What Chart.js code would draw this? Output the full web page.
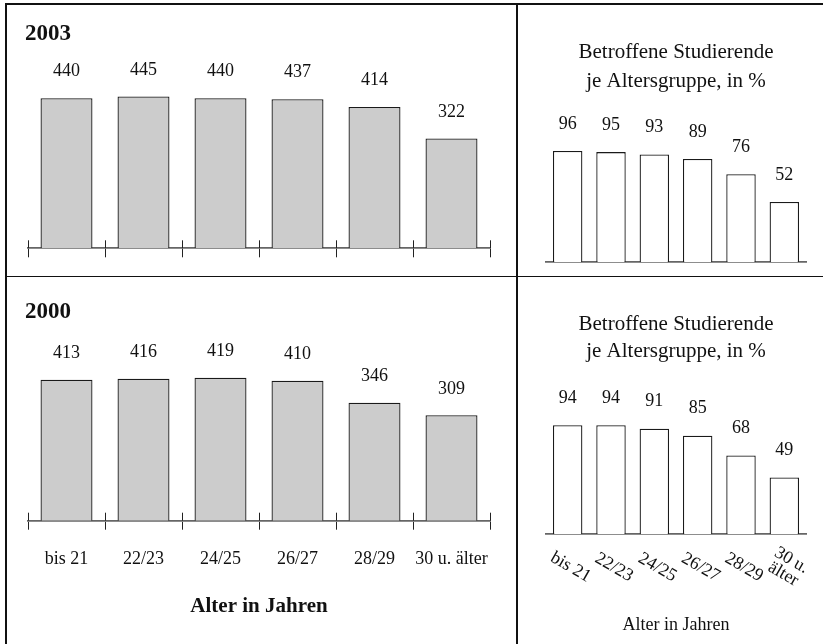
<!DOCTYPE html>
<html>
<head>
<meta charset="utf-8">
<script src="https://cdn.jsdelivr.net/npm/chart.js@4.4.0/dist/chart.umd.min.js"></script>
<style>
  html, body { margin: 0; padding: 0; background: #fff; }
  #page { position: relative; width: 823px; height: 644px; overflow: hidden; }
  canvas { position: absolute; }
  .rule { position: absolute; background: #111; }
</style>
</head>
<body>
<div id="page">
  <div class="rule" style="left:5px;top:3px;width:818px;height:1.5px"></div>
  <div class="rule" style="left:5px;top:3px;width:1.5px;height:641px"></div>
  <div class="rule" style="left:516px;top:3px;width:1.5px;height:641px"></div>
  <div class="rule" style="left:5px;top:275.5px;width:818px;height:1.5px"></div>
  <canvas id="count2003" width="510" height="272" style="left:6px;top:4px"></canvas>
  <canvas id="share2003" width="305" height="272" style="left:518px;top:4px"></canvas>
  <canvas id="count2000" width="510" height="367" style="left:6px;top:277px"></canvas>
  <canvas id="share2000" width="305" height="367" style="left:518px;top:277px"></canvas>
</div>
<script>
// Studierende nach Altersgruppe (Anzahl in Tsd.) und Anteil betroffener Studierender
const ageGroups = ['bis 21', '22/23', '24/25', '26/27', '28/29', '30 u. älter'];
const ageGroupsTilted = ['bis 21', '22/23', '24/25', '26/27', '28/29', ['30 u.', 'älter']];
const students2003 = [440, 445, 440, 437, 414, 322];
const share2003 = [96, 95, 93, 89, 76, 52];
const students2000 = [413, 416, 419, 410, 346, 309];
const share2000 = [94, 94, 91, 85, 68, 49];
const countMax = 500;
const shareMax = 100;
const shareTitle = ['Betroffene Studierende', 'je Altersgruppe, in %'];
const axisTitle = 'Alter in Jahren';

const serif = "'Liberation Serif', 'Times New Roman', serif";
const ink = '#111';

// numbers above the bars
const valueLabels = {
  id: 'valueLabels',
  afterDatasetsDraw(chart, args, opts) {
    const ctx = chart.ctx;
    const data = chart.data.datasets[0].data;
    ctx.save();
    ctx.font = opts.size + 'px ' + serif;
    ctx.fillStyle = ink;
    ctx.textAlign = 'center';
    ctx.textBaseline = 'middle';
    chart.getDatasetMeta(0).data.forEach((bar, i) => {
      ctx.fillText(String(data[i]), bar.x, bar.y - opts.gap);
    });
    ctx.restore();
  }
};

// tick marks also reach above the axis line
const tickUp = {
  id: 'tickUp',
  afterDraw(chart, args, opts) {
    if (!opts.length) return;
    const ctx = chart.ctx, sx = chart.scales.x;
    const n = chart.data.labels.length;
    ctx.save();
    ctx.strokeStyle = '#222';
    ctx.lineWidth = 1;
    for (let i = 0; i <= n; i++) {
      const px = Math.round(sx.getPixelForValue(i - 0.5)) + 0.5;
      ctx.beginPath();
      ctx.moveTo(px, sx.top - opts.length);
      ctx.lineTo(px, sx.top);
      ctx.stroke();
    }
    ctx.restore();
  }
};

// slanted category labels (rotated clockwise)
const tiltedLabels = {
  id: 'tiltedLabels',
  afterDraw(chart, args, opts) {
    if (!opts.show) return;
    const ctx = chart.ctx, sx = chart.scales.x;
    ctx.save();
    ctx.font = opts.size + 'px ' + serif;
    ctx.fillStyle = ink;
    ctx.textAlign = 'center';
    ctx.textBaseline = 'middle';
    chart.data.labels.forEach((lab, i) => {
      const lines = [].concat(lab);
      ctx.save();
      ctx.translate(sx.getPixelForTick(i) + opts.dx, sx.top + opts.dy);
      ctx.rotate(opts.angle * Math.PI / 180);
      lines.forEach((t, k) => {
        ctx.fillText(t, 0, (k - (lines.length - 1) / 2) * opts.lineHeight);
      });
      ctx.restore();
    });
    ctx.restore();
  }
};

function ageChart(id, labels, values, o) {
  return new Chart(document.getElementById(id), {
    type: 'bar',
    data: {
      labels: labels,
      datasets: [{
        data: values,
        backgroundColor: o.fill,
        borderColor: '#1a1a1a',
        borderWidth: 1.3,
        barPercentage: o.barPct,
        categoryPercentage: 1
      }]
    },
    options: {
      responsive: false,
      animation: false,
      events: [],
      layout: { padding: o.pad },
      plugins: {
        legend: { display: false },
        tooltip: { enabled: false },
        title: {
          display: true,
          text: o.title,
          align: o.titleAlign,
          color: ink,
          font: { family: serif, size: o.titleSize, weight: o.titleWeight, lineHeight: o.titleLine },
          padding: o.titlePad
        },
        valueLabels: { size: 18, gap: o.gap },
        tickUp: { length: o.tickUp },
        tiltedLabels: { show: o.tilted, size: 18, dx: 3, dy: 33, angle: 30, lineHeight: 16 }
      },
      scales: {
        x: {
          offset: true,
          grid: {
            display: o.tickDown > 0,
            offset: true,
            drawOnChartArea: false,
            drawTicks: true,
            tickLength: o.tickDown,
            color: '#222',
            lineWidth: 1
          },
          border: { display: true, color: '#666', width: 1.8 },
          ticks: {
            display: o.showTicks,
            autoSkip: false,
            minRotation: 0,
            maxRotation: 0,
            padding: 18.5,
            color: ink,
            font: { family: serif, size: 18 }
          },
          title: {
            display: !!o.axisTitle,
            text: o.axisTitle,
            color: ink,
            font: { family: serif, size: o.axisTitleSize, weight: o.axisTitleWeight },
            padding: { top: 0, bottom: o.axisTitleBottom }
          },
          afterFit: s => { s.height = o.xHeight; }
        },
        y: {
          min: 0,
          max: o.max,
          display: true,
          grid: { display: false },
          border: { display: false },
          ticks: { display: false },
          afterFit: s => { s.width = o.yWidth; }
        }
      }
    },
    plugins: [valueLabels, tickUp, tiltedLabels]
  });
}

ageChart('count2003', ageGroups, students2003, {
  fill: '#cccccc', barPct: 0.675, max: countMax,
  pad: { left: 19, right: 26, top: 0, bottom: 0 }, yWidth: 3,
  title: '2003', titleAlign: 'start', titleSize: 23, titleWeight: 'bold', titleLine: 1.2,
  titlePad: { top: 16.3, bottom: 29.8 },
  gap: 26.5, tickUp: 8, tickDown: 9, showTicks: false, tilted: false,
  axisTitle: '', xHeight: 27.7
});

ageChart('count2000', ageGroups, students2000, {
  fill: '#cccccc', barPct: 0.675, max: countMax,
  pad: { left: 19, right: 26, top: 0, bottom: 0 }, yWidth: 3,
  title: '2000', titleAlign: 'start', titleSize: 23, titleWeight: 'bold', titleLine: 1.2,
  titlePad: { top: 21.6, bottom: 23.9 },
  gap: 26.5, tickUp: 8, tickDown: 9, showTicks: true, tilted: false,
  axisTitle: axisTitle, axisTitleSize: 21, axisTitleWeight: 'bold', axisTitleBottom: 25,
  xHeight: 123.3
});

ageChart('share2003', ageGroups, share2003, {
  fill: '#ffffff', barPct: 0.68, max: shareMax,
  pad: { left: 28, right: 17, top: 0, bottom: 0 }, yWidth: 0,
  title: shareTitle, titleAlign: 'center', titleSize: 21, titleWeight: 'normal', titleLine: 1.381,
  titlePad: { top: 33.8, bottom: 50.5 },
  gap: 27, tickUp: 0, tickDown: 0, showTicks: false, tilted: false,
  axisTitle: '', xHeight: 13.7
});

ageChart('share2000', ageGroupsTilted, share2000, {
  fill: '#ffffff', barPct: 0.68, max: shareMax,
  pad: { left: 28, right: 17, top: 0, bottom: 0 }, yWidth: 0,
  title: shareTitle, titleAlign: 'center', titleSize: 21, titleWeight: 'normal', titleLine: 1.3,
  titlePad: { top: 33.35, bottom: 53.35 },
  gap: 27, tickUp: 0, tickDown: 0, showTicks: false, tilted: true,
  axisTitle: axisTitle, axisTitleSize: 18, axisTitleWeight: 'normal', axisTitleBottom: 8.4,
  xHeight: 109.7
});
</script>
</body>
</html>
